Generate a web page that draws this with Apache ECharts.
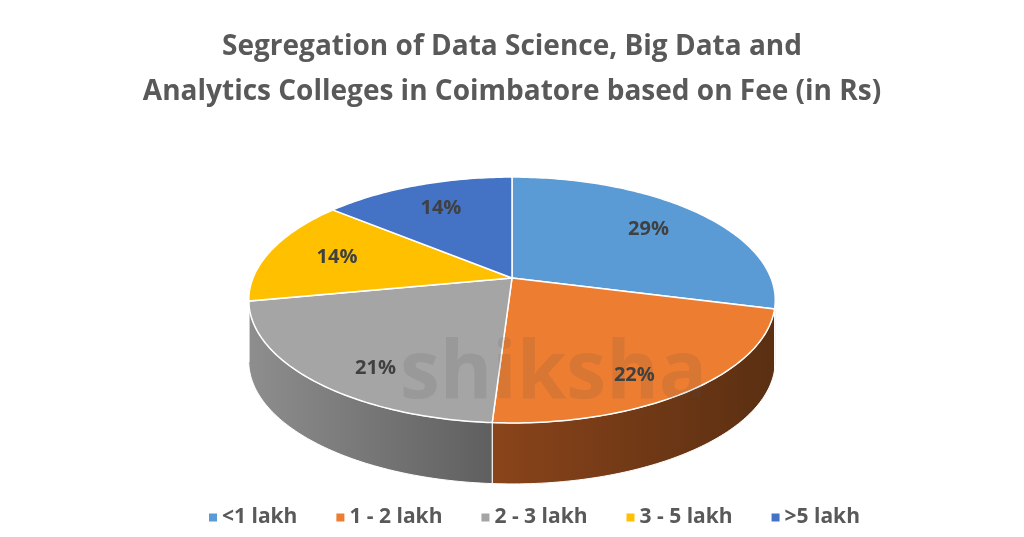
<!DOCTYPE html>
<html>
<head>
<meta charset="utf-8">
<script src="https://cdn.jsdelivr.net/npm/echarts@6/dist/echarts.min.js"></script>
<style>
  html, body { margin: 0; padding: 0; background: #fff; }
  #chart { width: 1024px; height: 537px; }
</style>
</head>
<body>
<div id="chart"></div>
<script>
var categories = ['<1 lakh', '1 - 2 lakh', '2 - 3 lakh', '3 - 5 lakh', '>5 lakh'];
var shares = [29, 22, 21, 14, 14];

var topColors = ['#5B9BD5', '#ED7D31', '#A5A5A5', '#FFC000', '#4472C4'];
var sideColors = [
  ['#3f74a6', '#2b5580'],
  ['#8a441a', '#5a2f12'],
  ['#8e8e8e', '#5f5f5f'],
  ['#b88a00', '#8a6700'],
  ['#2f5597', '#22407a']
];

var FONT = "'Open Sans', 'Noto Sans', sans-serif";
// perspective pie geometry
var CX = 512, CY = 278, RX = 259, RY = 119, K = 0.179, DEPTH = 61;
var total = shares.reduce(function (a, b) { return a + b; }, 0);

function proj(t, r, dy) {
  var c = Math.cos(t), s = Math.sin(t);
  var d = 1 + K * r * c;
  return [CX + r * RX * s / d, CY - r * RY * c / d + (dy || 0)];
}

function arc(a0, a1, dy) {
  var pts = [];
  var n = Math.max(2, Math.ceil((a1 - a0) / (Math.PI / 180)));
  for (var i = 0; i <= n; i++) {
    pts.push(proj(a0 + (a1 - a0) * i / n, 1, dy));
  }
  return pts;
}

function makeRender(idx) {
  return function (params, api) {
    var start = api.value(0), val = api.value(1);
    var a0 = start / total * Math.PI * 2;
    var a1 = (start + val) / total * Math.PI * 2;
    var children = [];

    // visible outer wall (front half)
    var t1 = Math.acos(-K), t2 = Math.PI * 2 - t1;
    var lo = Math.max(a0, t1), hi = Math.min(a1, t2);
    if (hi > lo) {
      var wall = arc(lo, hi, 0).concat(arc(lo, hi, DEPTH).reverse());
      children.push({
        type: 'polygon',
        shape: { points: wall },
        style: {
          fill: new echarts.graphic.LinearGradient(0, 0, 1, 0, [
            { offset: 0, color: sideColors[idx][0] },
            { offset: 1, color: sideColors[idx][1] }
          ]),
          stroke: '#fff',
          lineWidth: 1
        }
      });
    }

    // top face
    var top = [[CX, CY]].concat(arc(a0, a1, 0));
    children.push({
      type: 'polygon',
      shape: { points: top },
      style: { fill: topColors[idx], stroke: '#fff', lineWidth: 1.5 }
    });

    // data label
    var mid = (a0 + a1) / 2;
    var p = proj(mid, 0.72, Math.max(0, -Math.cos(mid)) * 25);
    children.push({
      type: 'text',
      style: {
        text: val + '%',
        x: p[0], y: p[1],
        align: 'center', verticalAlign: 'middle',
        fill: '#404040',
        fontSize: 20, fontWeight: 'bold', fontFamily: FONT
      }
    });

    return { type: 'group', children: children };
  };
}

var series = [];
var acc = 0;
categories.forEach(function (name, i) {
  series.push({
    name: name,
    type: 'custom',
    coordinateSystem: 'none',
    itemStyle: { color: topColors[i] },
    renderItem: makeRender(i),
    data: [[acc, shares[i]]]
  });
  acc += shares[i];
});

var titleStyle = { color: '#595959', fontSize: 28, fontWeight: 'bold', fontFamily: FONT };

var chart = echarts.init(document.getElementById('chart'));
chart.setOption({
  animation: false,
  backgroundColor: '#fff',
  title: [
    {
      text: 'Segregation of Data Science, Big Data and',
      left: 'center', top: 28,
      textStyle: titleStyle
    },
    {
      text: 'Analytics Colleges in Coimbatore based on Fee (in Rs)',
      left: 'center', top: 73,
      textStyle: titleStyle
    }
  ],
  legend: {
    data: categories,
    bottom: 4,
    left: 204,
    icon: 'rect',
    itemWidth: 8,
    itemHeight: 8,
    itemGap: 39,
    textStyle: { color: '#595959', fontSize: 21, fontWeight: 'bold', fontFamily: FONT }
  },
  graphic: [
    {
      type: 'text',
      z: 100,
      left: 400, top: 335,
      silent: true,
      style: {
        text: 'shiksha',
        fill: 'rgba(80,80,80,0.13)',
        fontSize: 80, fontWeight: 'bold', fontFamily: FONT
      }
    }
  ],
  series: series
});
</script>
</body>
</html>
